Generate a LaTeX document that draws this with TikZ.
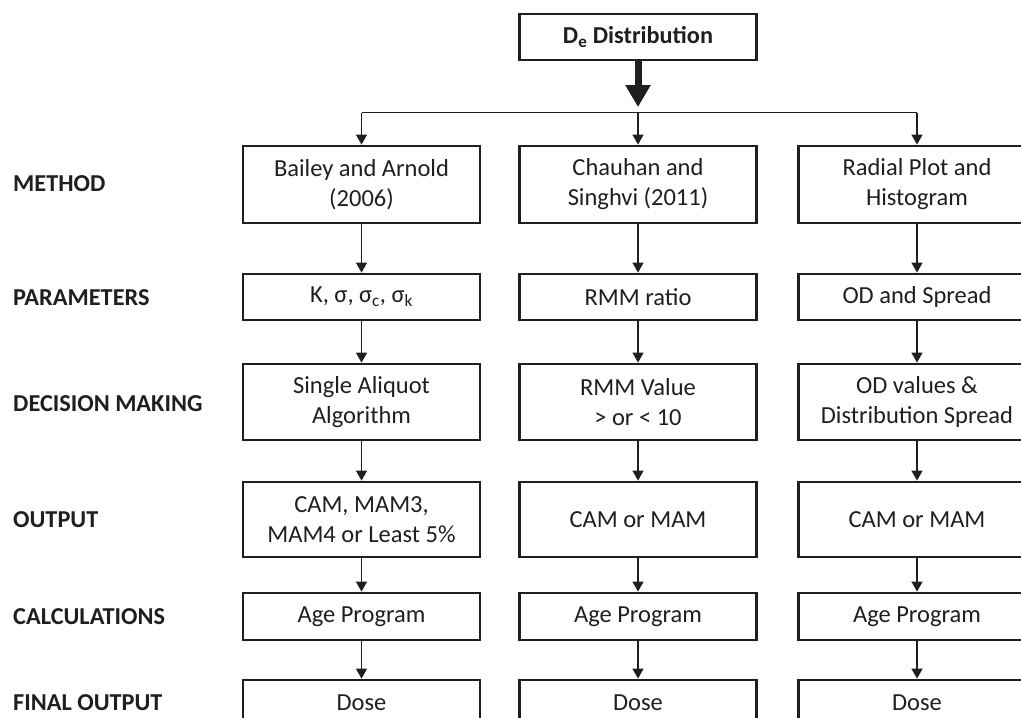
\documentclass[tikz,border=0pt]{standalone}
\usepackage{fontspec}
\setmainfont{Carlito}
\usetikzlibrary{arrows.meta}
\begin{document}
\begin{tikzpicture}[x=1pt,y=-1pt,
  box/.style={draw=black!88, line width=2.8pt, minimum width=237pt, align=center,
    font=\fontsize{24.5}{30}\selectfont, inner sep=0pt, text=black!88},
  lab/.style={anchor=west, font=\fontsize{24.3}{28}\selectfont\bfseries, inner sep=0pt, text=black!88},
  arr/.style={draw=black!88, line width=1.4pt, -{Triangle[length=10pt,width=11pt]}},
  bigarr/.style={draw=black!88, line width=7pt, -{Triangle[length=22pt,width=24pt]}},
]
\useasboundingbox (0,0) rectangle (1021,718);
\clip (0,0) rectangle (1021,718);

% top
\node[box, minimum height=46pt, font=\fontsize{24.3}{28}\selectfont\bfseries] (top) at (638,37) {D\textsubscript{e} Distribution};

% left labels
\node[lab] (lm) at (13,184) {METHOD};
\node[lab] (lp) at (13,298) {PARAMETERS};
\node[lab] (ld) at (13,404) {DECISION MAKING};
\node[lab] (lo) at (13,520) {OUTPUT};
\node[lab] (lc) at (13,617) {CALCULATIONS};
\node[lab] (lf) at (13,703) {FINAL OUTPUT};

% column A
\node[box, minimum height=77pt] (a1) at (361.5,184.5) {Bailey and Arnold\\(2006)};
\node[box, minimum height=46pt] (a2) at (361.5,297) {K, σ, σ\textsubscript{c}, σ\textsubscript{k}};
\node[box, minimum height=76pt] (a3) at (361.5,402) {Single Aliquot\\Algorithm};
\node[box, minimum height=75pt] (a4) at (361.5,519.5) {CAM, MAM3,\\MAM4 or Least 5\%};
\node[box, minimum height=47pt] (a5) at (361.5,616.5) {Age Program};
\node[box, minimum height=46pt] (a6) at (361.5,703) {Dose};

% column B
\node[box, minimum height=77pt] (b1) at (638,184.5) {Chauhan and\\Singhvi (2011)};
\node[box, minimum height=46pt] (b2) at (638,297) {RMM ratio};
\node[box, minimum height=76pt] (b3) at (638,402) {RMM Value\\> or < 10};
\node[box, minimum height=75pt] (b4) at (638,519.5) {CAM or MAM};
\node[box, minimum height=47pt] (b5) at (638,616.5) {Age Program};
\node[box, minimum height=46pt] (b6) at (638,703) {Dose};

% column C
\node[box, minimum height=77pt] (c1) at (917,184.5) {Radial Plot and\\Histogram};
\node[box, minimum height=46pt] (c2) at (917,297) {OD and Spread};
\node[box, minimum height=76pt] (c3) at (917,402) {OD values \&\\Distribution Spread};
\node[box, minimum height=75pt] (c4) at (917,519.5) {CAM or MAM};
\node[box, minimum height=47pt] (c5) at (917,616.5) {Age Program};
\node[box, minimum height=46pt] (c6) at (917,703) {Dose};

% top connectors
\coordinate (jm) at (638,112.5);
\coordinate (jl) at (361.5,112.5);
\coordinate (jr) at (917,112.5);
\draw[bigarr] (top.south) -- (638,107);
\draw[draw=black!88, line width=1.6pt] (jl) -- (jr);
\draw[arr] (jl) -- (a1.north);
\draw[arr] (jm) -- (b1.north);
\draw[arr] (jr) -- (c1.north);

\foreach \c in {a,b,c}{
  \draw[arr] (\c1) -- (\c2);
  \draw[arr] (\c2) -- (\c3);
  \draw[arr] (\c3) -- (\c4);
  \draw[arr] (\c4) -- (\c5);
  \draw[arr] (\c5) -- (\c6);
}
\end{tikzpicture}
\end{document}
